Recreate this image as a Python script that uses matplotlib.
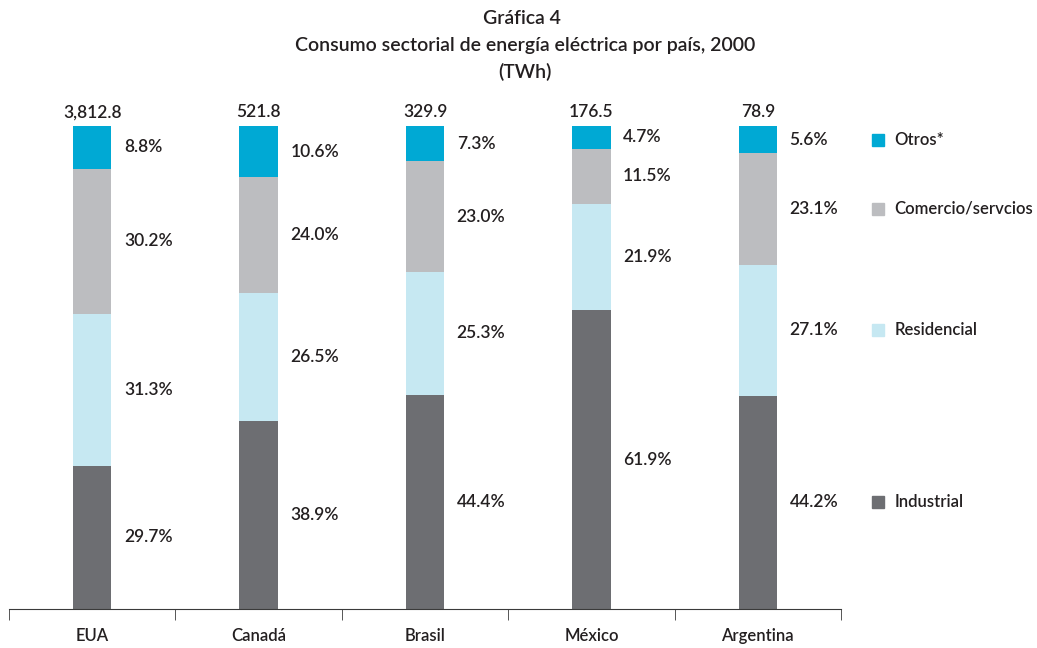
import matplotlib
matplotlib.use('Agg')
import matplotlib.pyplot as plt
import matplotlib.transforms as mtransforms
import numpy as np

plt.rcParams['font.family'] = ['Lato', 'DejaVu Sans']
plt.rcParams['font.weight'] = 'semibold'

paises = ['EUA', 'Canadá', 'Brasil', 'México', 'Argentina']
totales = ['3,812.8', '521.8', '329.9', '176.5', '78.9']

# porcentajes por sector, de abajo hacia arriba
industrial = [29.7, 38.9, 44.4, 61.9, 44.2]
residencial = [31.3, 26.5, 25.3, 21.9, 27.1]
comercio = [30.2, 24.0, 23.0, 11.5, 23.1]
otros = [8.8, 10.6, 7.3, 4.7, 5.6]

sectores = ['Industrial', 'Residencial', 'Comercio/servcios', 'Otros*']
colores = ['#6d6e72', '#c6e8f2', '#bcbdc0', '#00a9d4']
texto = '#231f20'
peso = 'semibold'

fig = plt.figure(figsize=(10.37, 6.48), dpi=100)
ax = fig.add_axes([9 / 1037, 1 - 609 / 648, 832 / 1037, (609 - 126) / 648])

x = np.arange(len(paises))
ancho = 0.23
base = np.zeros(len(paises))
for serie, color in zip([industrial, residencial, comercio, otros], colores):
    vals = np.array(serie)
    ax.bar(x, vals, ancho, bottom=base, color=color, linewidth=0)
    for xi, b, v in zip(x, base, vals):
        ax.annotate(f'{v:.1f}%', xy=(xi + ancho / 2, b + v / 2), xytext=(9, 0),
                    textcoords='offset points', ha='left', va='center',
                    fontsize=12.5, fontweight=peso, color=texto)
    base += vals

# totales en TWh sobre cada barra
for xi, t in zip(x, totales):
    ax.annotate(t, xy=(xi, 100), xytext=(0, 4), textcoords='offset points',
                ha='center', va='bottom', fontsize=12.5, fontweight=peso,
                color=texto, annotation_clip=False)

# leyenda alineada con los segmentos de la ultima barra
trans = mtransforms.blended_transform_factory(ax.transAxes, ax.transData)
base = 0.0
for serie, color, nombre in zip([industrial, residencial, comercio, otros], colores, sectores):
    centro = base + serie[-1] / 2
    ax.plot([1.0445], [centro], marker='s', ms=8, color=color, transform=trans,
            clip_on=False, linestyle='none')
    ax.text(1.064, centro, nombre, transform=trans, ha='left', va='center',
            fontsize=12, fontweight=peso, color=texto)
    base += serie[-1]

ax.set_xlim(-0.5, len(paises) - 0.5)
ax.set_ylim(0, 100)
for s in ['top', 'right', 'left']:
    ax.spines[s].set_visible(False)
ax.spines['bottom'].set_color('#3a3a3a')
ax.set_yticks([])
ax.set_xticks(x)
ax.set_xticklabels(paises, fontsize=12, fontweight=peso, color=texto)
ax.tick_params(axis='x', which='major', length=0, pad=14)
ax.set_xticks(np.arange(len(paises) + 1) - 0.5, minor=True)
ax.tick_params(axis='x', which='minor', length=8, color='#3a3a3a', direction='out')

fig.text(0.503, 1 - 18 / 648, 'Gráfica 4', ha='center', va='center',
         fontsize=14, fontweight=peso, color=texto)
fig.text(0.506, 1 - 46 / 648, 'Consumo sectorial de energía eléctrica por país, 2000',
         ha='center', va='center', fontsize=14, fontweight=peso, color=texto)
fig.text(0.506, 1 - 72 / 648, '(TWh)', ha='center', va='center',
         fontsize=14, fontweight=peso, color=texto)

fig.savefig('out.png', dpi=100)
